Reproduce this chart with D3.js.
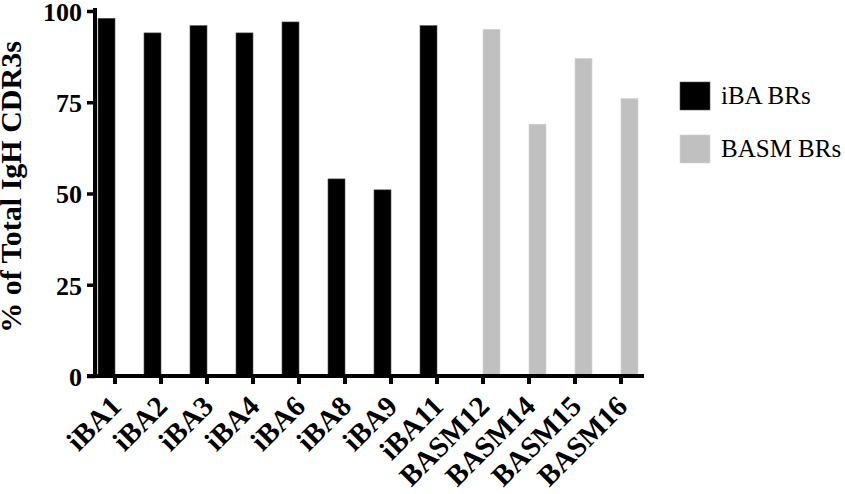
<!DOCTYPE html>
<html>
<head>
<meta charset="utf-8">
<script src="https://cdn.jsdelivr.net/npm/d3@7"></script>
<style>
  body { margin: 0; background: #fff; }
  svg { display: block; font-family: "Liberation Serif", "Times New Roman", serif; }
</style>
</head>
<body>
<div id="chart"></div>
<script>
// --- Data ---
const categories = ["iBA1", "iBA2", "iBA3", "iBA4", "iBA6", "iBA8", "iBA9", "iBA11",
                    "BASM12", "BASM14", "BASM15", "BASM16"];
const seriesNames = ["iBA BRs", "BASM BRs"];
const ibaValues  = [98, 94, 96, 94, 97, 54, 51, 96, null, null, null, null];
const basmValues = [null, null, null, null, null, null, null, null, 95, 69, 87, 76];
const yTicks = [0, 25, 50, 75, 100];
const colors = ["#000000", "#c0c0c0"];

const width = 845, height = 494;
const serif = "'Liberation Serif', 'Times New Roman', serif";
const svg = d3.select("#chart").append("svg")
    .attr("width", width)
    .attr("height", height);

// --- Scales ---
const x = d3.scaleBand().domain(categories).range([92, 644]).padding(0);
const xInner = d3.scaleBand().domain(seriesNames).range([6, 40]).padding(0);
const y = d3.scaleLinear().domain([0, 100]).range([376, 11]);

const rows = categories.map((c, i) => ({
    cat: c,
    values: [
        { series: seriesNames[0], value: ibaValues[i] },
        { series: seriesNames[1], value: basmValues[i] }
    ].filter(d => d.value != null)
}));

// --- Bars ---
const groups = svg.append("g").selectAll("g")
    .data(rows)
    .enter()
    .append("g")
    .attr("transform", d => `translate(${x(d.cat)},0)`);

groups.selectAll("rect")
    .data(d => d.values)
    .enter()
    .append("rect")
    .attr("x", d => xInner(d.series))
    .attr("width", xInner.bandwidth())
    .attr("y", d => y(d.value))
    .attr("height", d => y(0) - y(d.value))
    .attr("fill", d => colors[seriesNames.indexOf(d.series)])
    .attr("stroke", d => d.series === seriesNames[0] ? "#555" : "#d4d4d4")
    .attr("stroke-width", 0.6);

// --- Y axis ---
const yAxis = svg.append("g")
    .attr("transform", "translate(95,0)")
    .call(d3.axisLeft(y).tickValues(yTicks).tickSize(8).tickSizeOuter(0).tickPadding(5));
yAxis.select(".domain").remove();
yAxis.append("line")
    .attr("x1", 0).attr("x2", 0)
    .attr("y1", 8).attr("y2", 378)
    .attr("stroke", "#000").attr("stroke-width", 4);
yAxis.selectAll(".tick line").attr("stroke", "#000").attr("stroke-width", 3.5);
yAxis.selectAll(".tick text")
    .attr("fill", "#000")
    .attr("dy", "0.36em")
    .attr("font-family", serif)
    .attr("font-size", 26)
    .attr("font-weight", "bold");

// --- X axis (ticks only, labels drawn below) ---
const xAxis = svg.append("g")
    .attr("transform", `translate(0,${y(0)})`)
    .call(d3.axisBottom(x).tickSize(8).tickSizeOuter(0).tickFormat(""));
xAxis.select(".domain").remove();
xAxis.append("line")
    .attr("x1", 87).attr("x2", 644)
    .attr("y1", 0).attr("y2", 0)
    .attr("stroke", "#000").attr("stroke-width", 4);
xAxis.selectAll(".tick line").attr("stroke", "#000").attr("stroke-width", 4);

svg.append("g").selectAll("text")
    .data(categories)
    .enter()
    .append("text")
    .attr("transform", d => `translate(${x(d) + x.bandwidth() / 2 + 8},${y(0) + 32}) rotate(-45)`)
    .attr("text-anchor", "end")
    .attr("font-family", serif)
    .attr("font-size", 29)
    .attr("font-weight", "bold")
    .attr("fill", "#000")
    .text(d => d);

// --- Y label ---
svg.append("text")
    .attr("transform", "translate(21,187) rotate(-90)")
    .attr("text-anchor", "middle")
    .attr("font-size", 30)
    .attr("font-weight", "bold")
    .text("% of Total IgH CDR3s");

// --- Legend ---
const legend = svg.append("g").selectAll("g")
    .data(seriesNames)
    .enter()
    .append("g")
    .attr("transform", (d, i) => `translate(680,${82 + i * 53})`);

legend.append("rect")
    .attr("width", 30)
    .attr("height", 28)
    .attr("fill", (d, i) => colors[i])
    .attr("stroke", (d, i) => i === 0 ? "#555" : "#d4d4d4")
    .attr("stroke-width", 0.6);

legend.append("text")
    .attr("x", 41)
    .attr("y", 22)
    .attr("font-size", 25)
    .text(d => d);
</script>
</body>
</html>
